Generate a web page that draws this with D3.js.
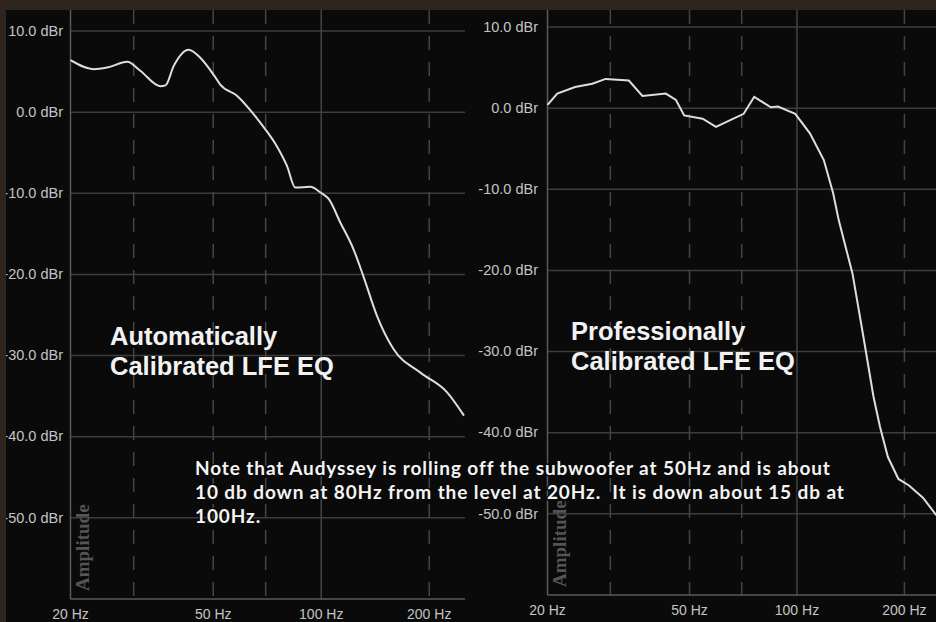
<!DOCTYPE html>
<html>
<head>
<meta charset="utf-8">
<script src="https://cdn.jsdelivr.net/npm/d3@7"></script>
<style>
    body { margin: 0; background: #30241f; }
    svg { display: block; }
</style>
</head>
<body>
<div id="chart"></div>
<script>
const width = 936;
const height = 622;

// ticks and grid
const freqTicks = [20, 50, 100, 200];
const dashedFreqs = [30, 50, 70, 200];
const solidFreqs = [100];
const dbTicks = [10, 0, -10, -20, -30, -40, -50];

// Automatically calibrated curve (Hz, dBr)
const autoFreq = [20, 23.2, 25.3, 28.8, 31.3, 35.6, 36.8, 38.8, 42.7, 46.0, 50.3, 52.3, 58.3, 67.6, 75.2, 80.2, 84.7, 93.3, 99.5, 104.9, 113, 123, 131, 143, 159, 189, 224, 250];
const autoDb = [6.4, 5.3, 5.5, 6.2, 5.1, 3.2, 3.3, 5.7, 7.7, 6.7, 4.5, 3.4, 2.0, -1.3, -4.2, -6.6, -9.3, -9.2, -9.9, -10.7, -13.6, -16.9, -20.2, -25.1, -29.2, -32.1, -34.5, -37.4];

// Professionally calibrated curve
const proFreq = [20, 21.3, 23.9, 26.7, 29.1, 33.8, 36.9, 42.9, 45.8, 48.3, 54.4, 59.3, 64.8, 70.9, 75.9, 84.5, 88.5, 98.9, 108.7, 118.9, 126.3, 130.9, 143.1, 153, 163.9, 170.9, 179.8, 192.4, 206, 225.4, 246];
const proDb = [0.4, 1.8, 2.6, 3.0, 3.6, 3.4, 1.5, 1.8, 1.0, -0.9, -1.3, -2.3, -1.5, -0.7, 1.4, 0.1, 0.2, -0.7, -3.1, -6.4, -10.5, -13.8, -20.4, -27.8, -35.6, -39.3, -43.0, -45.7, -46.5, -48.0, -50.2];

const autoTitle = ['Automatically', 'Calibrated LFE EQ'];
const proTitle = ['Professionally', 'Calibrated LFE EQ'];
const noteLines = [
    'Note that Audyssey is rolling off the subwoofer at 50Hz and is about',
    '10 db down at 80Hz from the level at 20Hz.  It is down about 15 db at',
    '100Hz.'
];

const svg = d3.select('#chart')
    .append('svg')
    .attr('width', width)
    .attr('height', height);

svg.append('defs')
    .append('clipPath')
    .attr('id', 'panelClip')
    .append('rect')
    .attr('x', 6)
    .attr('y', 10)
    .attr('width', width - 6)
    .attr('height', height - 10);

svg.append('rect')
    .attr('x', 6)
    .attr('y', 10)
    .attr('width', width - 6)
    .attr('height', height - 10)
    .attr('fill', '#0a0a0a');

const root = svg.append('g').attr('clip-path', 'url(#panelClip)');

function renderPanel(p) {
    let x = d3.scaleLog()
        .domain([20, 250])
        .range([p.left, p.right]);

    let y = d3.scaleLinear()
        .domain([-60, 10])
        .range([p.bottom, p.y10]);

    let g = root.append('g');

    // horizontal grid
    g.selectAll('.hgrid')
        .data(dbTicks)
        .enter()
        .append('line')
        .attr('x1', p.left)
        .attr('x2', p.gridEnd)
        .attr('y1', d => y(d))
        .attr('y2', d => y(d))
        .attr('stroke', '#3d3d3d')
        .attr('stroke-width', 1.5);

    // vertical grid
    g.selectAll('.vdash')
        .data(dashedFreqs)
        .enter()
        .append('line')
        .attr('x1', d => x(d))
        .attr('x2', d => x(d))
        .attr('y1', p.top)
        .attr('y2', p.bottom)
        .attr('stroke', '#444')
        .attr('stroke-width', 1.5)
        .attr('stroke-dasharray', '14,12');

    g.selectAll('.vsolid')
        .data(solidFreqs)
        .enter()
        .append('line')
        .attr('x1', d => x(d))
        .attr('x2', d => x(d))
        .attr('y1', p.top)
        .attr('y2', p.bottom)
        .attr('stroke', '#444')
        .attr('stroke-width', 1.5);

    // axis frame
    g.append('line')
        .attr('x1', x(20)).attr('x2', x(20))
        .attr('y1', p.top).attr('y2', p.bottom)
        .attr('stroke', '#5a5a5a')
        .attr('stroke-width', 1.5);
    g.append('line')
        .attr('x1', x(20)).attr('x2', p.gridEnd)
        .attr('y1', p.bottom).attr('y2', p.bottom)
        .attr('stroke', '#5a5a5a')
        .attr('stroke-width', 1.5);

    // tick labels
    g.selectAll('.ylab')
        .data(dbTicks)
        .enter()
        .append('text')
        .attr('x', p.labelX)
        .attr('y', d => y(d))
        .attr('dy', '0.33em')
        .attr('text-anchor', 'end')
        .attr('fill', '#c4c4c4')
        .style('font', '14.5px "Liberation Sans", Arial, sans-serif')
        .text(d => d.toFixed(1) + ' dBr');

    g.selectAll('.xlab')
        .data(freqTicks)
        .enter()
        .append('text')
        .attr('x', d => x(d))
        .attr('y', p.bottom + 20)
        .attr('text-anchor', 'middle')
        .attr('fill', '#c4c4c4')
        .style('font', '14px "Liberation Sans", Arial, sans-serif')
        .text(d => d + ' Hz');

    g.append('text')
        .attr('transform', `translate(${x(20) + 18},${p.bottom - 8}) rotate(-90)`)
        .attr('fill', '#555')
        .style('font', 'bold 19px "Liberation Serif", "Times New Roman", serif')
        .text('Amplitude');

    // response curve
    let points = p.freqs.map((f, i) => [f, p.dbs[i]]);
    g.append('path')
        .datum(points)
        .attr('fill', 'none')
        .attr('stroke', '#dedede')
        .attr('stroke-width', 2)
        .attr('d', d3.line()
            .x(d => x(d[0]))
            .y(d => y(d[1]))
            .curve(p.curve));

    g.append('text')
        .attr('x', p.titleX)
        .attr('y', p.titleY)
        .attr('fill', '#f2f2f2')
        .style('font', 'bold 25.5px "Liberation Sans", Arial, sans-serif')
        .selectAll('tspan')
        .data(p.title)
        .enter()
        .append('tspan')
        .attr('x', p.titleX)
        .attr('dy', (d, i) => i === 0 ? 0 : 30)
        .text(d => d);
}

renderPanel({
    left: 70.5, right: 464, gridEnd: 465,
    top: 10, y10: 31, bottom: 599,
    labelX: 63,
    freqs: autoFreq, dbs: autoDb,
    curve: d3.curveMonotoneX,
    title: autoTitle, titleX: 110, titleY: 345
});

renderPanel({
    left: 547.5, right: 939, gridEnd: 936,
    top: 10, y10: 27, bottom: 595,
    labelX: 538,
    freqs: proFreq, dbs: proDb,
    curve: d3.curveLinear,
    title: proTitle, titleX: 571, titleY: 340
});

// note over both panels
svg.append('text')
    .attr('x', 195)
    .attr('y', 475)
    .attr('fill', '#f4f4f4')
    .attr('stroke', '#0a0a0a')
    .attr('stroke-width', 3)
    .attr('paint-order', 'stroke')
    .style('font', 'bold 19px Lato, "Open Sans", sans-serif')
    .style('letter-spacing', '0.9px')
    .style('white-space', 'pre')
    .selectAll('tspan')
    .data(noteLines)
    .enter()
    .append('tspan')
    .attr('x', 195)
    .attr('dy', (d, i) => i === 0 ? 0 : 24)
    .text(d => d);
</script>
</body>
</html>
